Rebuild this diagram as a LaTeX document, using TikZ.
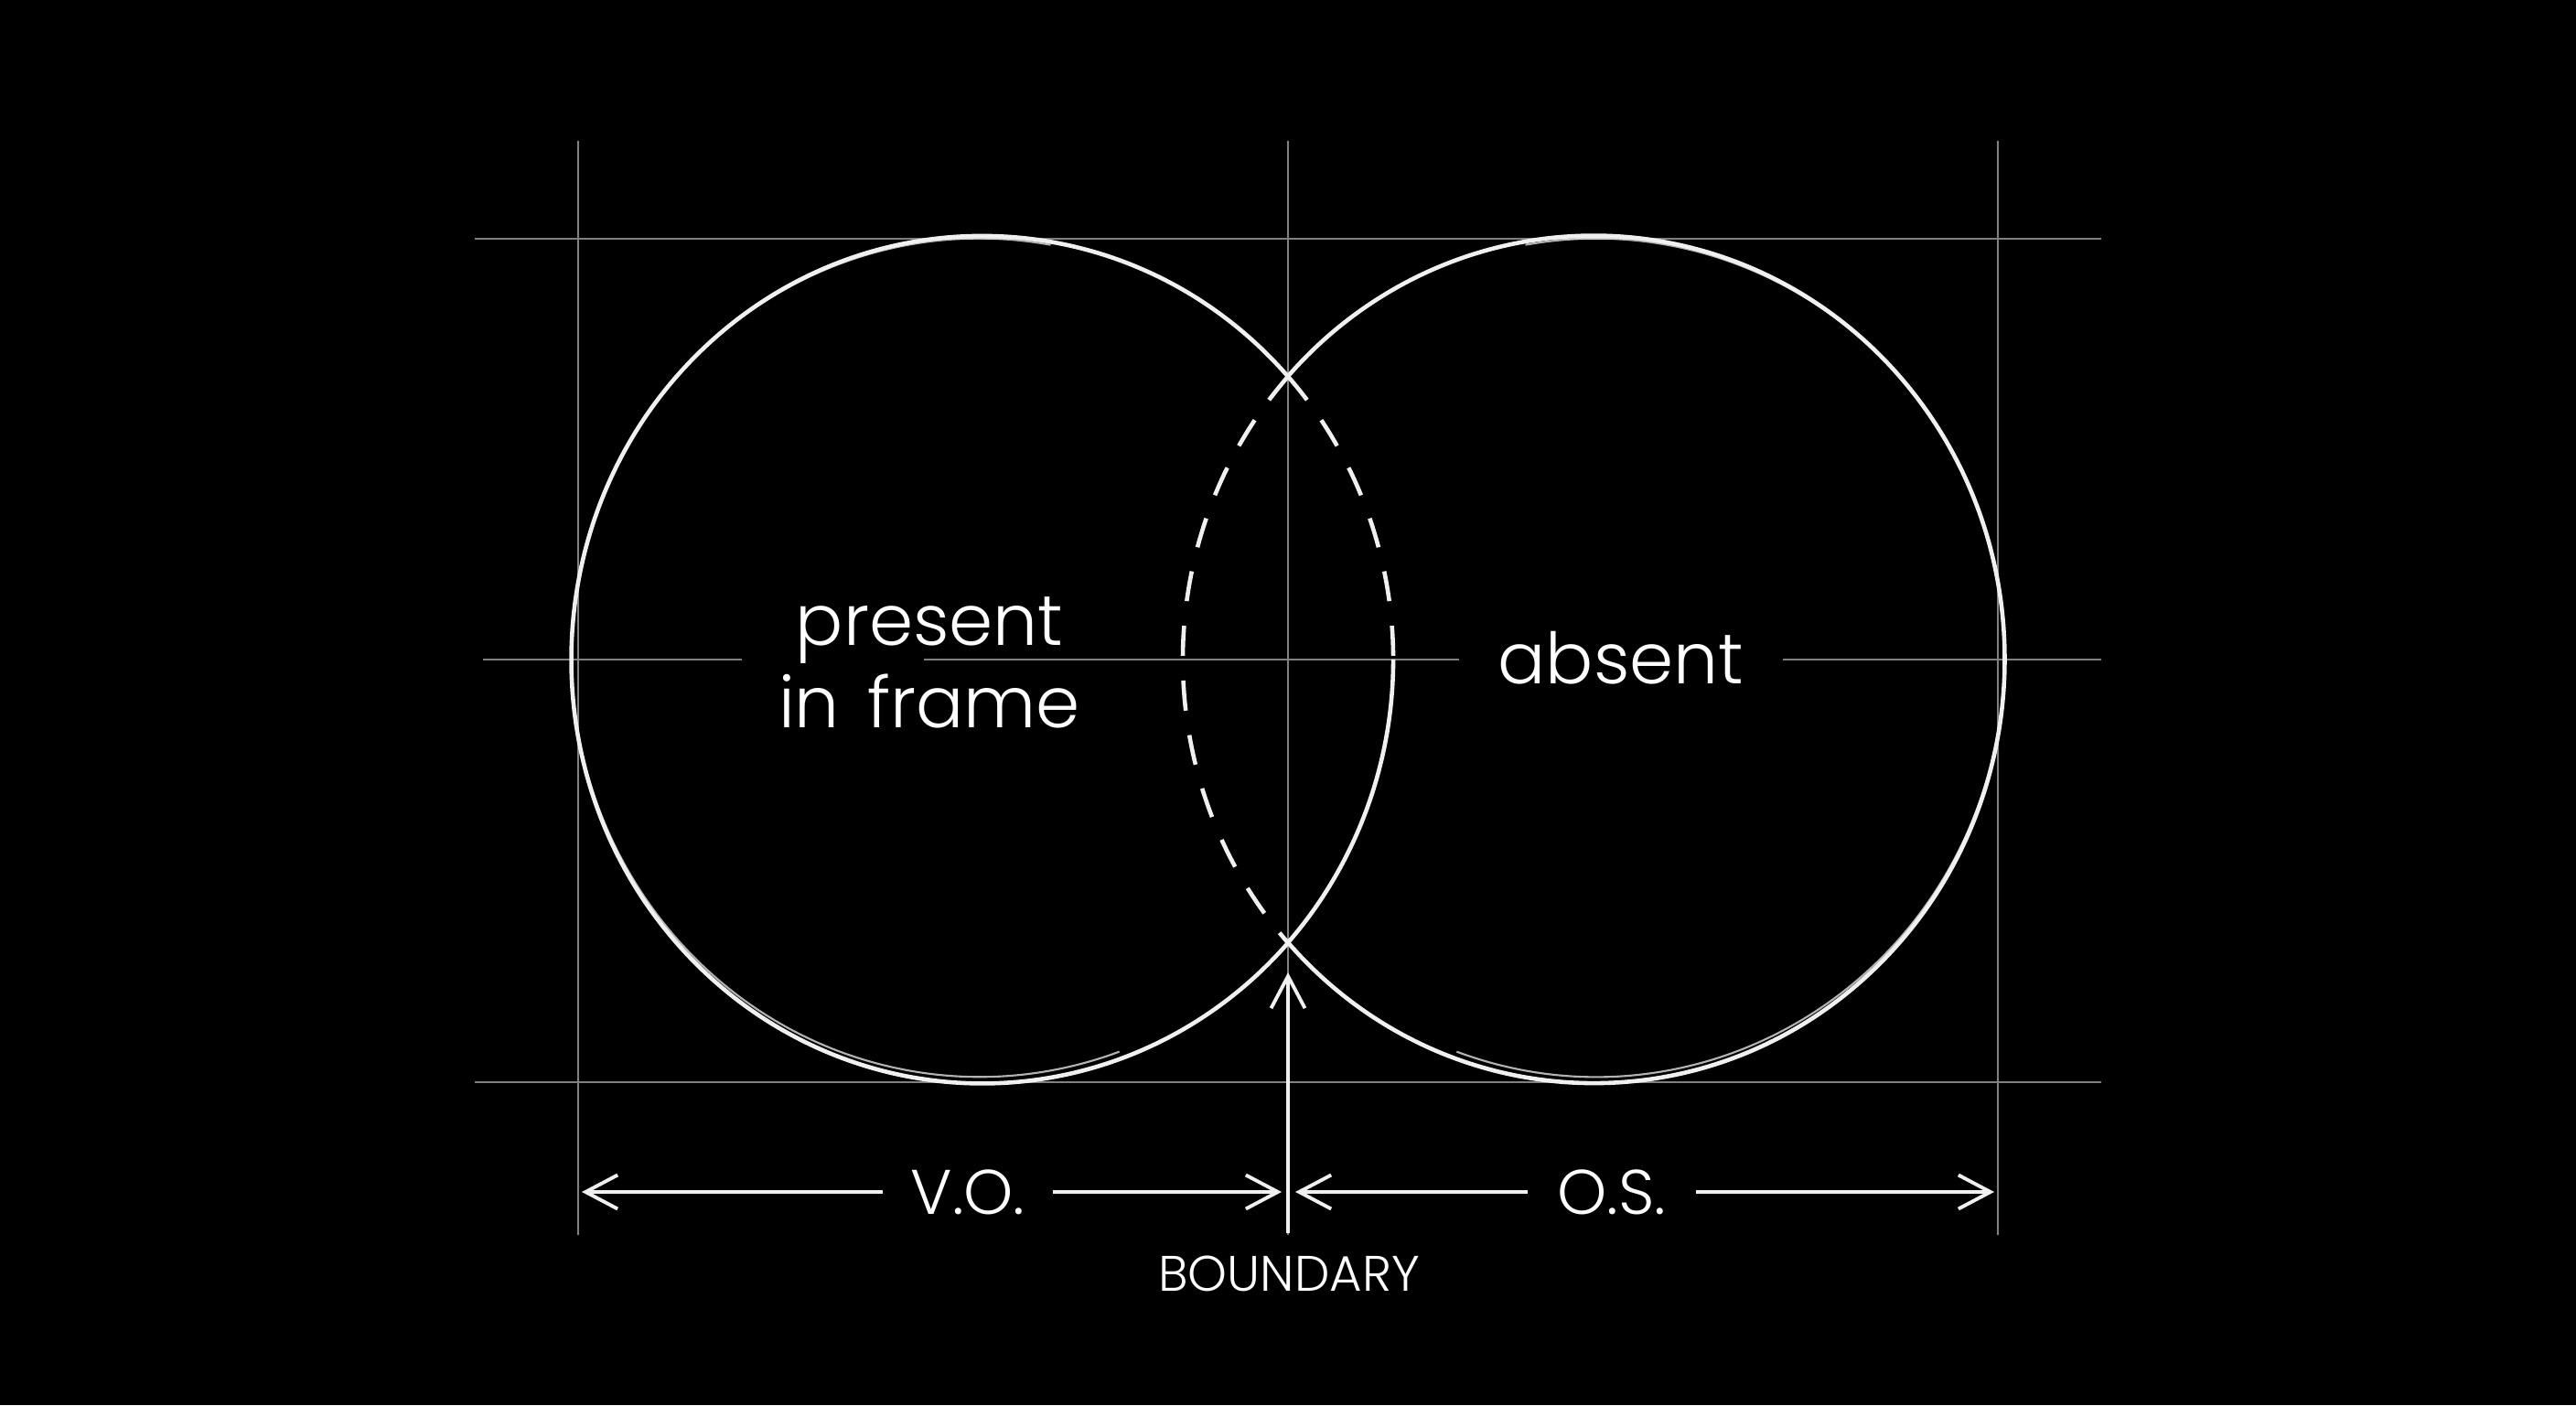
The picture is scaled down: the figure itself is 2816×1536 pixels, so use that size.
\documentclass[tikz,border=0pt]{standalone}
\usepackage{fontspec}
\setmainfont{Poppins}[UprightFont=* Light]
\usepackage{tikz}
\usetikzlibrary{arrows.meta}
\definecolor{SketchGuideColor}{RGB}{128,128,128}
\definecolor{SketchChalkColor}{RGB}{240,240,240}

\begin{document}
\begin{tikzpicture}[x=0.01cm,y=0.01cm,
guide/.style={SketchGuideColor,line width=0.7pt},
ring/.style={SketchChalkColor,line width=1.3pt},
ringb/.style={SketchChalkColor,line width=0.6pt,opacity=0.75},
lens/.style={SketchChalkColor,line width=1.3pt,dash pattern=on 0.33cm off 0.27cm},
dim/.style={SketchChalkColor,line width=1.1pt,-{Straight Barb[length=0.35cm,width=0.37cm]}},
big/.style={text=white,inner sep=0pt,font=\fontsize{22pt}{25.6pt}\selectfont},
mid/.style={text=white,inner sep=0pt,font=\fontsize{19.6pt}{22pt}\selectfont},
small/.style={text=white,inner sep=0pt,font=\fontsize{15.5pt}{18pt}\selectfont}]
\fill[black] (0,0) rectangle (2816,1536);
\useasboundingbox (0,0) rectangle (2816,1536);
% guide grid
\foreach \x in {632,1408,2184} {
   \draw[guide] (\x,1382) -- (\x,186);
}
\foreach \y in {1275,353} {
   \draw[guide] (519,\y) -- (2297,\y);
}
\coordinate (ml) at (528,815);
\coordinate (mr) at (2297,815);
\node[big,minimum width=3.52cm,anchor=base] (absent) at (1772,788) {absent};
\node[big,align=center] (pif) at (1016,812) {present\\in\hspace{0.12em} frame};
\draw[guide] (ml) -- (811,815);
\draw[guide] (1010,815) -- (absent.west |- ml);
\draw[guide] (absent.east |- mr) -- (mr);
% the two rings
\coordinate (c1) at (1074,815);
\coordinate (c2) at (1742,815);
\coordinate (top) at (1408,1124.4);
\coordinate (bot) at (1408,505.6);
\draw[ring] (top) arc[start angle=41.93,end angle=318.07,x radius=4.49cm,y radius=4.63cm];
\draw[ring] (bot) arc[start angle=-41.93,end angle=0,x radius=4.49cm,y radius=4.63cm];
\draw[lens] (top) arc[start angle=41.93,end angle=0,x radius=4.49cm,y radius=4.63cm];
\draw[ring] (bot) arc[start angle=221.93,end angle=498.07,x radius=4.49cm,y radius=4.63cm];
\draw[lens] (top) arc[start angle=138.07,end angle=221.93,x radius=4.49cm,y radius=4.63cm];
\draw[ringb] ([shift={(80:4.46cm and 4.58cm)}]c1) ++(-3,2)
   arc[start angle=80,end angle=290,x radius=4.46cm,y radius=4.58cm];
\draw[ringb] ([shift={(-110:4.46cm and 4.58cm)}]c2) ++(3,2)
   arc[start angle=-110,end angle=100,x radius=4.46cm,y radius=4.58cm];
% dimensions
\node[mid,minimum width=1.84cm] (vo) at (1058,233) {V.O.};
\node[mid,minimum width=1.82cm] (os) at (1762,233) {O.S.};
\coordinate (vl) at (636,233);
\coordinate (vr) at (1401,233);
\coordinate (ol) at (1416,233);
\coordinate (or) at (2180,233);
\draw[dim] (vo.west) -- (vl);
\draw[dim] (vo.east) -- (vr);
\draw[dim] (os.west) -- (ol);
\draw[dim] (os.east) -- (or);
\node[small] (bnd) at (1409,144) {BOUNDARY};
\coordinate (tail) at (1408,188);
\coordinate (tip) at (1408,473);
\draw[dim] (tail) -- (tip);
\end{tikzpicture}
\end{document}
